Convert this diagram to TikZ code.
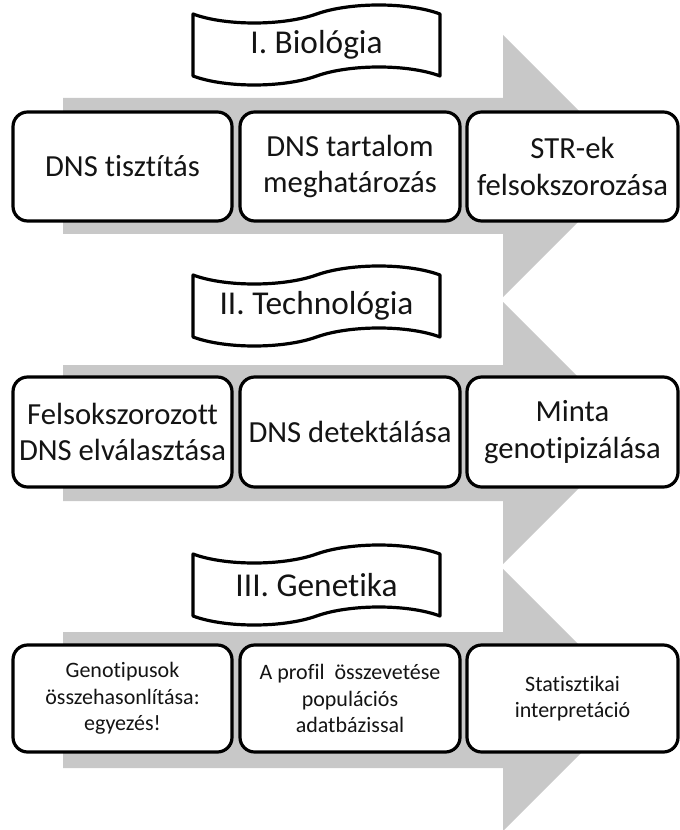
\documentclass[tikz,border=0pt]{standalone}
\usepackage{fontspec}
\setmainfont[Ligatures=NoCommon]{Carlito}
\definecolor{arrowgray}{RGB}{200,200,200}
\definecolor{inkcol}{RGB}{20,20,20}
\tikzset{
  stepbox/.style={draw=black, line width=2.4pt, rounded corners=11pt, fill=white,
    align=center, inner sep=2pt, text=inkcol},
  bigtext/.style={font=\fontsize{23}{27.5}\selectfont},
  smalltext/.style={font=\fontsize{16.5}{20}\selectfont},
  bannertext/.style={font=\fontsize{25}{30}\selectfont, text=inkcol},
  bannerline/.style={draw=black, line width=2.4pt, fill=white, line join=round},
  flow/.style={fill=arrowgray},
  wa/.style={minimum width=164.25pt},
  wb/.style={minimum width=165pt},
  wc/.style={minimum width=158.25pt},
  banner/.pic={
    \path[bannerline] (0,0) .. controls (32,12) and (90,12) .. (123.5,0)
      .. controls (157,-12) and (215,-12) .. (247,0) -- (247,62)
      .. controls (215,50) and (157,50) .. (123.5,62)
      .. controls (90,74) and (32,74) .. (0,62) -- cycle;
  }
}
\begin{document}
\begin{tikzpicture}[x=0.75pt, y=-0.75pt]
\useasboundingbox (0,0) rectangle (679,830);
% big flow arrows
\foreach \c in {166,433,700} {
  \fill[flow] (63,{\c-68}) -- (503,{\c-68}) -- (503,{\c-131}) -- (634,\c)
    -- (503,{\c+131}) -- (503,{\c+68}) -- (63,{\c+68}) -- cycle;
}
% banners
\pic at (193,14) {banner};
\node[bannertext] (b1) at (316.5,45) {I. Biológia};
\pic at (193,275) {banner};
\node[bannertext] (b2) at (316.5,306) {II. Technológia};
\pic at (193,554) {banner};
\node[bannertext] (b3) at (316.5,585) {III. Genetika};
% row 1
\node[stepbox, bigtext, wa, minimum height=81.75pt] (r1a) at (122.5,166.5) {DNS tisztítás};
\node[stepbox, bigtext, wb, minimum height=81.75pt] (r1b) at (350,166.5) {DNS tartalom\\meghatározás};
\node[stepbox, bigtext, wc, minimum height=81.75pt] (r1c) at (572.5,166.5) {STR-ek\\felsokszorozása};
% row 2
\node[stepbox, bigtext, wa, minimum height=82.5pt] (r2a) at (122.5,432) {Felsokszorozott\\DNS elválasztása};
\node[stepbox, bigtext, wb, minimum height=82.5pt] (r2b) at (350,432) {DNS detektálása};
\node[stepbox, bigtext, wc, minimum height=82.5pt] (r2c) at (572.5,432) {Minta\\genotipizálása};
% row 3
\node[stepbox, smalltext, wa, minimum height=80.25pt] (r3a) at (122.5,698.5) {Genotipusok\\összehasonlítása:\\egyezés!};
\node[stepbox, smalltext, wb, minimum height=80.25pt] (r3b) at (350,698.5) {A profil\ \ összevetése\\populációs\\adatbázissal};
\node[stepbox, smalltext, wc, minimum height=80.25pt] (r3c) at (572.5,698.5) {Statisztikai\\interpretáció};
\end{tikzpicture}
\end{document}
